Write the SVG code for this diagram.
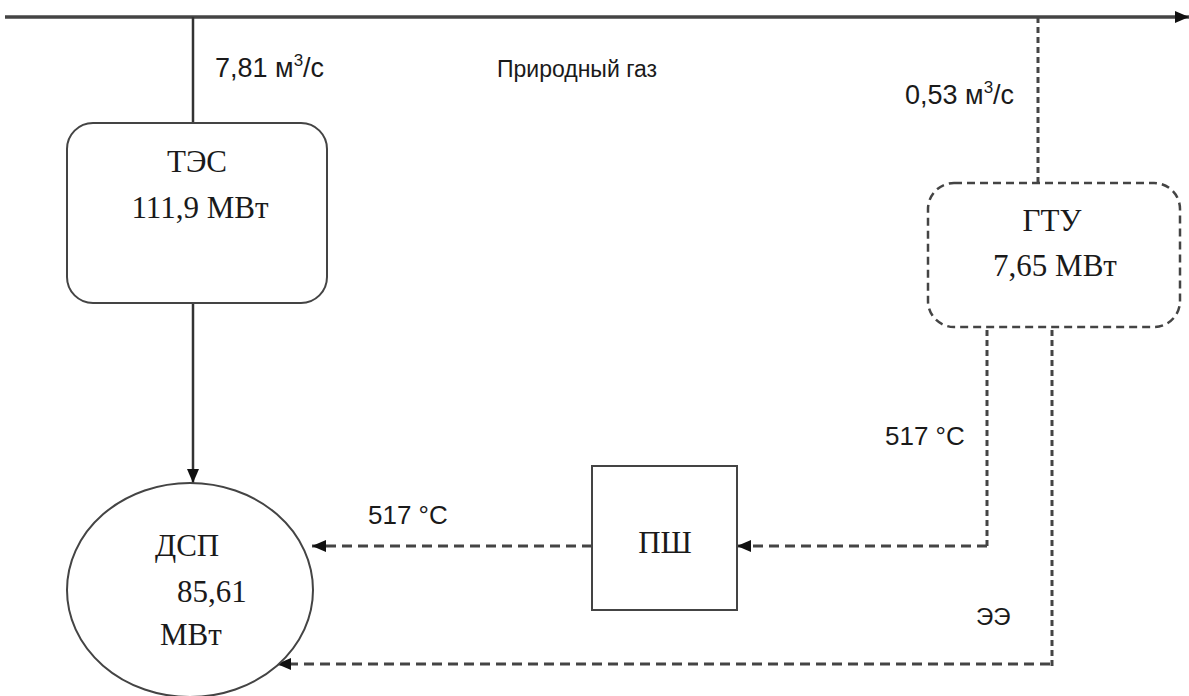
<svg xmlns="http://www.w3.org/2000/svg" width="1189" height="696" viewBox="0 0 1189 696">
<style>
.serif{font-family:"Liberation Serif","Times New Roman",serif;font-size:31px;fill:#1a1a1a}
.sans{font-family:"Liberation Sans",Arial,sans-serif;fill:#1a1a1a}
.solid{stroke:#333;stroke-width:2.5;fill:none}
.dash{stroke:#444;stroke-width:3;fill:none;stroke-dasharray:10 6}
.vdash{stroke:#444;stroke-width:3;fill:none;stroke-dasharray:6 4}
.box{stroke:#444;stroke-width:2;fill:#fff}
.dbox{stroke:#444;stroke-width:2.5;fill:#fff;stroke-dasharray:8 5}
</style>
<defs>
<marker id="ah" markerWidth="14" markerHeight="12" refX="14" refY="6" orient="auto" markerUnits="userSpaceOnUse">
<path d="M0,0 L14,6 L0,12 Z" fill="#111"/>
</marker>
</defs>
<rect width="1189" height="696" fill="#fff"/>
<g id="connectors">
<line x1="5" y1="17" x2="1189" y2="17" stroke="#444" stroke-width="3.5" marker-end="url(#ah)"/>
<line x1="193" y1="17" x2="193" y2="123" class="solid"/>
<line x1="1038" y1="17" x2="1038" y2="183" class="vdash"/>
<line x1="193" y1="303" x2="193" y2="483" class="solid" marker-end="url(#ah)"/>
<line x1="987" y1="330" x2="987" y2="546" class="vdash"/>
<line x1="987" y1="546" x2="737" y2="546" class="dash" marker-end="url(#ah)"/>
<line x1="592" y1="546" x2="312" y2="546" class="dash" marker-end="url(#ah)"/>
<line x1="1052" y1="330" x2="1052" y2="666" class="vdash"/>
<line x1="1050" y1="664" x2="277" y2="664" class="dash" marker-end="url(#ah)"/>
</g>
<g id="labels">
<text x="215" y="77" class="sans" font-size="27">7,81 м<tspan dy="-11" font-size="17">3</tspan><tspan dy="11">/с</tspan></text>
<text x="497" y="77" class="sans" font-size="23">Природный газ</text>
<text x="905" y="104" class="sans" font-size="27">0,53 м<tspan dy="-11" font-size="17">3</tspan><tspan dy="11">/с</tspan></text>
<text x="885" y="445" class="sans" font-size="26">517 °C</text>
<text x="368" y="524" class="sans" font-size="26">517 °C</text>
<text x="976" y="625" class="sans" font-size="24">ЭЭ</text>
</g>
<g id="tes">
<rect x="67" y="123" width="260" height="180" rx="26" class="box"/>
<text x="197" y="172" class="serif" text-anchor="middle">ТЭС</text>
<text x="200" y="218" class="serif" text-anchor="middle">111,9 МВт</text>
</g>
<g id="gtu">
<rect x="928" y="183" width="252" height="144" rx="26" class="dbox"/>
<text x="1052" y="231" class="serif" text-anchor="middle">ГТУ</text>
<text x="1055" y="276" class="serif" text-anchor="middle">7,65 МВт</text>
</g>
<g id="psh">
<rect x="592" y="466" width="145" height="144" class="box"/>
<text x="665" y="553" class="serif" text-anchor="middle">ПШ</text>
</g>
<g id="dsp">
<ellipse cx="190" cy="590" rx="123" ry="107" class="box"/>
<text x="155" y="556" class="serif">ДСП</text>
<text x="177" y="602" class="serif">85,61</text>
<text x="160" y="645" class="serif">МВт</text>
</g>
</svg>
